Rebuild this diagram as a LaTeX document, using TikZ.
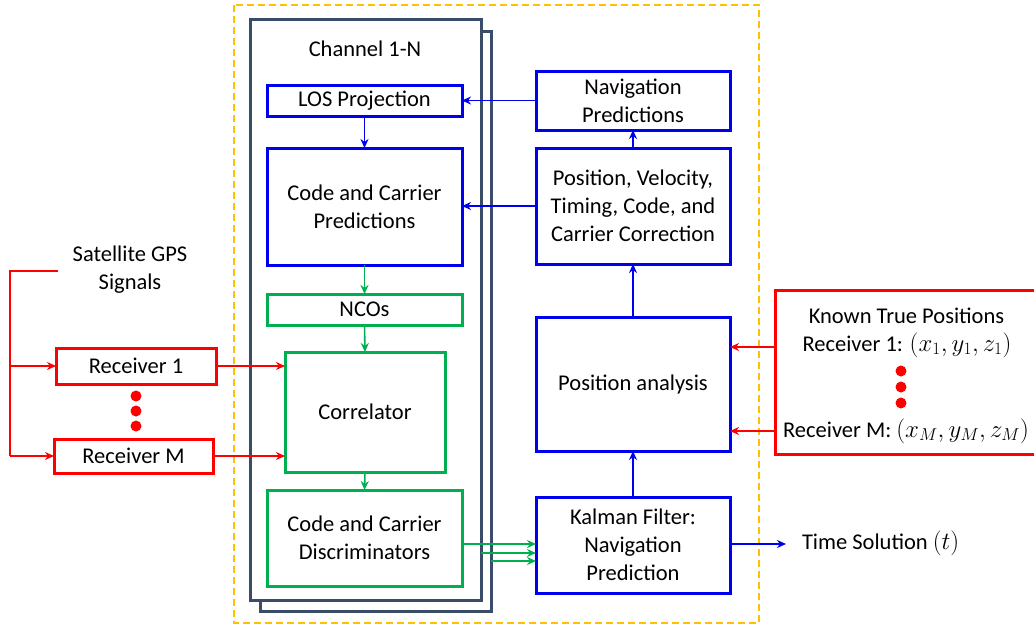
\documentclass[tikz,border=0pt]{standalone}
\usepackage{fontspec}
\setmainfont{Carlito}
\usetikzlibrary{arrows.meta,calc}
\definecolor{navy}{HTML}{3A4D68}
\definecolor{gold}{HTML}{FFC000}
\definecolor{okgreen}{HTML}{00B050}
\definecolor{pureblue}{HTML}{0000F0}
\definecolor{pured}{HTML}{FF0000}
% math set a little larger than the surrounding text
\newcommand{\bigmath}[1]{{\fontsize{26}{28}\selectfont$#1$}}
\begin{document}
\begin{tikzpicture}[x=1pt,y=-1pt,
  every node/.style={font=\fontsize{22.5}{28}\selectfont, inner sep=0pt, outer sep=0pt},
  box/.style={draw, line width=3pt, fill=white, align=center},
  bluebox/.style={box, draw=pureblue},
  greenbox/.style={box, draw=okgreen},
  redbox/.style={box, draw=pured},
  chan/.style={draw=navy, line width=3pt, fill=white},
  tip/.style={-{Stealth[length=9pt,width=8pt]}},
  barrow/.style={tip, draw=pureblue, line width=1.6pt},
  garrow/.style={tip, draw=okgreen, line width=1.6pt},
  rarrow/.style={tip, draw=pured, line width=1.6pt},
  dot/.style={circle, fill=pured, minimum size=11pt}]
\useasboundingbox (0,0) rectangle (1034,627);
\fill[white] (0,0) rectangle (1034,627);

% processing block boundary
\draw[gold, line width=2.5pt, dash pattern=on 7pt off 4pt] (234,5) rectangle (759,623);

% stacked channel frames
\draw[chan] (260,31) rectangle (491,611);
\draw[chan] (250,19) rectangle (481,600);
\coordinate (chfront) at (481,0);
\coordinate (chback) at (491,0);
\node (chtitle) at (365,49) {Channel 1-N};

% channel blocks
\node[bluebox, minimum width=195, minimum height=31] (los) at (364.5,100.5) {LOS Projection};
\node[bluebox, minimum width=195, minimum height=117] (ccp) at (364.5,206.5) {Code and Carrier\\Predictions};
\node[greenbox, minimum width=195, minimum height=31] (nco) at (364.5,309.5) {NCOs};
\node[greenbox, minimum width=160, minimum height=120] (corr) at (365,412) {Correlator};
\node[greenbox, minimum width=195, minimum height=96] (disc) at (364.5,538) {Code and Carrier\\Discriminators};

% navigation blocks
\node[bluebox, minimum width=194, minimum height=59] (navp) at (633,100.5) {Navigation\\Predictions};
\node[bluebox, minimum width=194, minimum height=116] (pvt) at (633,206) {Position, Velocity,\\Timing, Code, and\\Carrier Correction};
\node[bluebox, minimum width=194, minimum height=134] (pos) at (633,384) {Position analysis};
\node[bluebox, minimum width=194, minimum height=96] (kal) at (633,545) {Kalman Filter:\\Navigation\\Prediction};

% receivers
\node (sattext) at (130,270) [align=center] {Satellite GPS\\Signals};
\node[redbox, minimum width=160, minimum height=36] (rx1) at (136,366) {Receiver 1};
\node[redbox, minimum width=159, minimum height=34] (rxm) at (133.5,456) {Receiver M};
\node[dot] (d1) at (136,396) {};
\node[dot] (d2) at (136,411) {};
\node[dot] (d3) at (136,426) {};

% known positions
\draw[pured, line width=3pt, fill=white] (775,290) rectangle (1040,454);
\node (kt) at (906.5,316) {Known True Positions};
\node (k1text) at (907,345) {Receiver 1: \bigmath{(x_1,y_1,z_1)}};
\node (kmtext) at (906,431) {Receiver M: \bigmath{(x_M,y_M,z_M)}};
\node[dot] (e1) at (901,371) {};
\node[dot] (e2) at (901,387) {};
\node[dot] (e3) at (901,403) {};
\coordinate (k1) at (775,347);
\coordinate (k2) at (775,431);

% signal distribution
\coordinate (sat) at (58,271);
\coordinate (bus) at (10,271);
\draw[pured, line width=1.6pt] (sat) -- (bus) -- (bus |- rxm.west);
\draw[rarrow] (bus |- rx1.west) -- (rx1.west);
\draw[rarrow] (bus |- rxm.west) -- (rxm.west);
\draw[rarrow] (rx1.east) -- (rx1.east -| corr.west);
\draw[rarrow] (rxm.east) -- (rxm.east -| corr.west);
\draw[rarrow] (k1) -- (k1 -| pos.east);
\draw[rarrow] (k2) -- (k2 -| pos.east);

% tracking loop
\draw[barrow] (los.south) -- (ccp.north);
\draw[garrow] (ccp.south) -- (nco.north);
\draw[garrow] (nco.south) -- (corr.north);
\draw[garrow] (corr.south) -- (disc.north);
\coordinate (g1) at (462,544);
\coordinate (g2) at ($(chfront)+(0,553)$);
\coordinate (g3) at ($(chback)+(0,561)$);
\draw[garrow] (g1) -- (g1 -| kal.west);
\draw[garrow] (g2) -- (g2 -| kal.west);
\draw[garrow] (g3) -- (g3 -| kal.west);
\draw[barrow] (kal.north) -- (pos.south);
\draw[barrow] (pos.north) -- (pvt.south);
\draw[barrow] (pvt.north) -- (navp.south);
\draw[barrow] (navp.west) -- (navp.west -| los.east);
\draw[barrow] (pvt.west) -- (pvt.west -| ccp.east);

% time output
\coordinate (ts) at (786,544);
\draw[barrow] (kal.east |- ts) -- (ts);
\node[anchor=west] (tstext) at (802,543) {Time Solution \bigmath{(t)}};
\end{tikzpicture}
\end{document}
